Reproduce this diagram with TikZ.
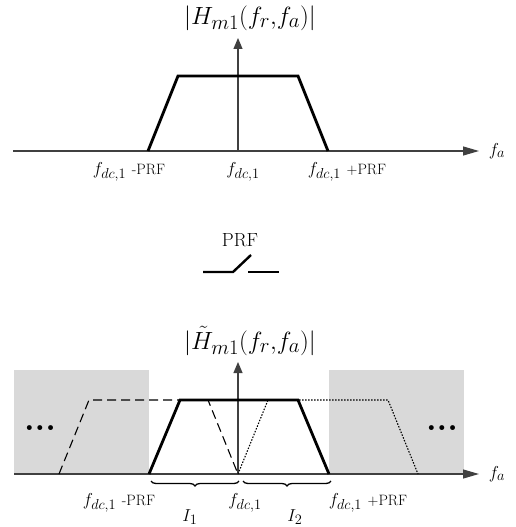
\documentclass[tikz,border=0pt]{standalone}
\usetikzlibrary{arrows.meta,decorations.pathreplacing}
\newcommand\prfsz[1]{{\fontsize{15}{18}\selectfont #1}}
\begin{document}
\begin{tikzpicture}[x=1pt,y=-1pt,
  axis/.style={draw=black!75, line width=1.2pt},
  harrow/.style={-{Triangle[length=16pt,width=9pt]}},
  varrow/.style={-{Triangle[length=11pt,width=9pt]}},
  band/.style={line width=2.8pt, line join=miter},
  dashband/.style={line width=1.1pt, dash pattern=on 9pt off 5pt},
  dotband/.style={line width=1.1pt, dash pattern=on 1.5pt off 1.5pt},
  shade/.style={fill=black!15, draw=none},
  lbl/.style={font=\fontsize{19}{22}\selectfont, inner sep=0pt},
  ttl/.style={font=\fontsize{29}{32}\selectfont, inner sep=0pt},
  bracestyle/.style={decorate, decoration={brace,mirror,amplitude=5pt}, line width=1.3pt},
  dots/.style={font=\fontsize{34}{36}\selectfont\bfseries, inner sep=0pt}]
\useasboundingbox (0,0) rectangle (515,527);

% ---------- top panel ----------
\coordinate (tL) at (13,151);
\coordinate (tR) at (479,151);
\coordinate (tO) at (238,151);
\coordinate (tT) at (238,38);
\draw[axis,harrow] (tL) -- (tR);
\draw[axis,varrow] (tO) -- (tT);
\node[lbl] (tfa) at (497,151) {$f_a$};
\node[ttl] (ttitle) at (250,18) {$|H_{m1}(f_r{,}f_a)|$};
\coordinate (ta) at (148,151);
\coordinate (tb) at (178,76);
\coordinate (tc) at (298,76);
\coordinate (td) at (328,151);
\draw[band] (ta) -- (tb) -- (tc) -- (td);
\node[lbl] (tl1) at (129,172) {$f_{dc,1}$ \prfsz{-PRF}};
\node[lbl] (tl2) at (243,172) {$f_{dc,1}$};
\node[lbl] (tl3) at (347,172) {$f_{dc,1}$ \prfsz{+PRF}};

% ---------- switch ----------
\node[lbl] (sw) at (240,240) {PRF};
\coordinate (s1) at (203,272);
\coordinate (s2) at (233,272);
\coordinate (s3) at (251,255);
\coordinate (s4) at (248,272);
\coordinate (s5) at (279,272);
\draw[line width=2.4pt] (s1) -- (s2) -- (s3);
\draw[line width=2.4pt] (s4) -- (s5);

% ---------- bottom panel ----------
\fill[shade] (14,370) rectangle (149,474);
\fill[shade] (329,370) rectangle (464,474);
\coordinate (bL) at (14,474);
\coordinate (bR) at (479,474);
\coordinate (bO) at (238,474);
\coordinate (bT) at (238,362);
\draw[axis,harrow] (bL) -- (bR);
\draw[axis,varrow] (bO) -- (bT);
\node[lbl] (bfa) at (497,474) {$f_a$};
\node[ttl] (btitle) at (250,341) {$|\tilde{H}_{m1}(f_r{,}f_a)|$};
% shifted replicas
\coordinate (da) at (59,474);
\coordinate (db) at (89,400);
\coordinate (dc) at (208,400);
\coordinate (dd) at (238,474);
\draw[dashband] (da) -- (db) -- (dc) -- (dd);
\coordinate (pa) at (238,474);
\coordinate (pb) at (268,400);
\coordinate (pc) at (388,400);
\coordinate (pd) at (418,474);
\draw[dotband] (pa) -- (pb) -- (pc) -- (pd);
% main band
\coordinate (ba) at (149,474);
\coordinate (bb) at (180,400);
\coordinate (bc) at (298,400);
\coordinate (bd) at (329,474);
\draw[band] (ba) -- (bb) -- (bc) -- (bd);
% dots
\node[dots] (ldots) at (40,428) {...};
\node[dots] (rdots) at (442,428) {...};
% braces
\coordinate (br1s) at (151,481);
\coordinate (br1e) at (239,481);
\coordinate (br2s) at (243,481);
\coordinate (br2e) at (331,481);
\draw[bracestyle] (br1s) -- (br1e);
\draw[bracestyle] (br2s) -- (br2e);
\node[lbl] (bl1) at (119,503) {$f_{dc,1}$ \prfsz{-PRF}};
\node[lbl] (bl2) at (245,503) {$f_{dc,1}$};
\node[lbl] (bl3) at (368,503) {$f_{dc,1}$ \prfsz{+PRF}};
\node[lbl] (i1) at (190,517) {$I_1$};
\node[lbl] (i2) at (295,517) {$I_2$};
\end{tikzpicture}
\end{document}
